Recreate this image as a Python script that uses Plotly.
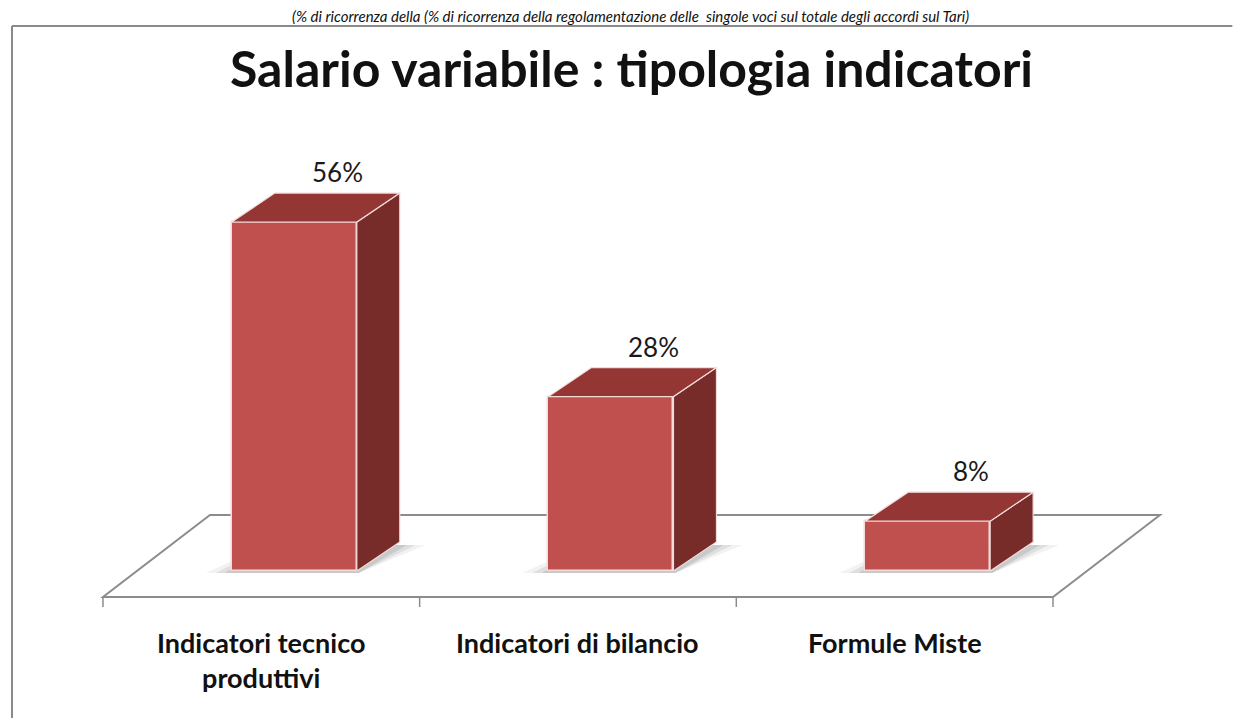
import plotly.graph_objects as go

# ---------------- data ----------------
categories = ["Indicatori tecnico<br>produttivi", "Indicatori di bilancio", "Formule Miste"]
values = [56, 28, 8]
value_labels = ["56%", "28%", "8%"]
title_text = "Salario variabile : tipologia indicatori"
subtitle_text = ("(% di ricorrenza della (% di ricorrenza della regolamentazione delle  "
                 "singole voci sul totale degli accordi sul Tari)")

# ---------------- geometry (scale helpers) ----------------
# page has an 8px body margin, so the figure is 16px smaller than the window
W, H = 1233, 710
PX_X = 316.67   # pixels per category unit
PX_Y = 6.23     # pixels per percentage point
def ux(p): return p / PX_X
def uy(p): return p / PX_Y

CAT0_PX = 253.3           # pixel x of first category centre (figure coords)
BASE_PX = 563             # pixel y of bar bottoms (figure coords)

BAR_OFF = ux(33)          # bar front face shift from category centre (depth)
BAR_W = ux(125)
BDX, BDY = ux(43), uy(29)  # bar depth projection
FLOOR_Y = -uy(26)
FDX, FDY = ux(107), uy(82)  # floor depth projection
TICK = uy(10)

X_RANGE = [-ux(CAT0_PX), ux(W - CAT0_PX)]
Y_RANGE = [-uy(H - BASE_PX), uy(BASE_PX)]

FRONT = "#C0504D"
TOP = "#943634"
SIDE = "#772C2A"
EDGE = "#F2DCDB"
GRID = "#8C8C8C"

n = len(values)
xs = [i + BAR_OFF for i in range(n)]

fig = go.Figure()

shapes = []
# floor parallelogram
fx0, fx1 = -0.5, n - 0.5
floor_pts = [(fx0, FLOOR_Y), (fx1, FLOOR_Y), (fx1 + FDX, FLOOR_Y + FDY), (fx0 + FDX, FLOOR_Y + FDY)]
path = "M " + " L ".join(f"{x},{y}" for x, y in floor_pts) + " Z"
shapes.append(dict(type="path", path=path, xref="x", yref="y", layer="below",
                   line=dict(color=GRID, width=2), fillcolor="white"))
# category ticks
for k in range(n + 1):
    tx = k - 0.5
    shapes.append(dict(type="line", xref="x", yref="y", layer="below",
                       x0=tx, x1=tx, y0=FLOOR_Y, y1=FLOOR_Y - TICK,
                       line=dict(color=GRID, width=1.5)))
# soft shadows under bars
for i, v in enumerate(values):
    x0 = xs[i] - BAR_W / 2
    x1 = xs[i] + BAR_W / 2
    for grow, op in [(ux(26), 0.08), (ux(16), 0.12), (ux(7), 0.16)]:
        pts = [(x0 - grow, -uy(2)), (x1 + ux(2), -uy(2)),
               (x1 + BDX + grow, BDY - uy(3)), (x0 + BDX - grow * 0.3, BDY - uy(3))]
        p = "M " + " L ".join(f"{a},{b}" for a, b in pts) + " Z"
        shapes.append(dict(type="path", path=p, xref="x", yref="y", layer="below",
                           line=dict(width=0), fillcolor=f"rgba(90,90,90,{op})"))
# outer frame (top and left edges)
FRAME_X, FRAME_Y = 4 / W, 1 - 18 / H
shapes.append(dict(type="line", xref="paper", yref="paper", layer="above",
                   x0=FRAME_X, x1=0.993, y0=FRAME_Y, y1=FRAME_Y,
                   line=dict(color="#8A8A8A", width=2)))
shapes.append(dict(type="line", xref="paper", yref="paper", layer="above",
                   x0=FRAME_X, x1=FRAME_X, y0=0, y1=FRAME_Y,
                   line=dict(color="#8A8A8A", width=2)))

# front faces
fig.add_trace(go.Bar(x=xs, y=values, base=0, width=BAR_W,
                     marker=dict(color=FRONT, line=dict(color=EDGE, width=1.5)),
                     hoverinfo="skip", showlegend=False))

# top and side faces
top_x, top_y, side_x, side_y = [], [], [], []
for i, v in enumerate(values):
    x0 = xs[i] - BAR_W / 2
    x1 = xs[i] + BAR_W / 2
    top_x += [x0, x1, x1 + BDX, x0 + BDX, x0, None]
    top_y += [v, v, v + BDY, v + BDY, v, None]
    side_x += [x1, x1, x1 + BDX, x1 + BDX, x1, None]
    side_y += [0, v, v + BDY, BDY, 0, None]
fig.add_trace(go.Scatter(x=side_x, y=side_y, mode="lines", fill="toself",
                         fillcolor=SIDE, line=dict(color=EDGE, width=1.2),
                         hoverinfo="skip", showlegend=False))
fig.add_trace(go.Scatter(x=top_x, y=top_y, mode="lines", fill="toself",
                         fillcolor=TOP, line=dict(color=EDGE, width=1.2),
                         hoverinfo="skip", showlegend=False))

annotations = []
FONT = "Lato, 'Open Sans', sans-serif"
for i, v in enumerate(values):
    annotations.append(dict(x=xs[i] + BDX, y=v + BDY + uy(21), xref="x", yref="y",
                            text=value_labels[i], showarrow=False, yanchor="middle",
                            font=dict(family=FONT, size=26, color="#1a1a1a")))
for i, c in enumerate(categories):
    annotations.append(dict(x=i, y=FLOOR_Y - uy(27), xref="x", yref="y", text=c,
                            showarrow=False, yanchor="top", align="center",
                            font=dict(family=FONT, size=27, color="#111111", weight="bold")))
annotations.append(dict(x=623 / W, y=1 - 60 / H, xref="paper", yref="paper",
                        text=title_text, showarrow=False, yanchor="middle",
                        font=dict(family=FONT, size=50, color="#111111", weight="bold")))
annotations.append(dict(x=622 / W, y=1 - 8 / H, xref="paper", yref="paper",
                        text=subtitle_text, showarrow=False, yanchor="middle",
                        font=dict(family=FONT, size=15, color="#111111", style="italic")))

fig.update_layout(
    width=W, height=H,
    margin=dict(l=0, r=0, t=0, b=0),
    paper_bgcolor="white", plot_bgcolor="white",
    xaxis=dict(range=X_RANGE, visible=False, fixedrange=True),
    yaxis=dict(range=Y_RANGE, visible=False, fixedrange=True),
    shapes=shapes, annotations=annotations,
    bargap=0, showlegend=False,
)

fig.write_html("out.html")
